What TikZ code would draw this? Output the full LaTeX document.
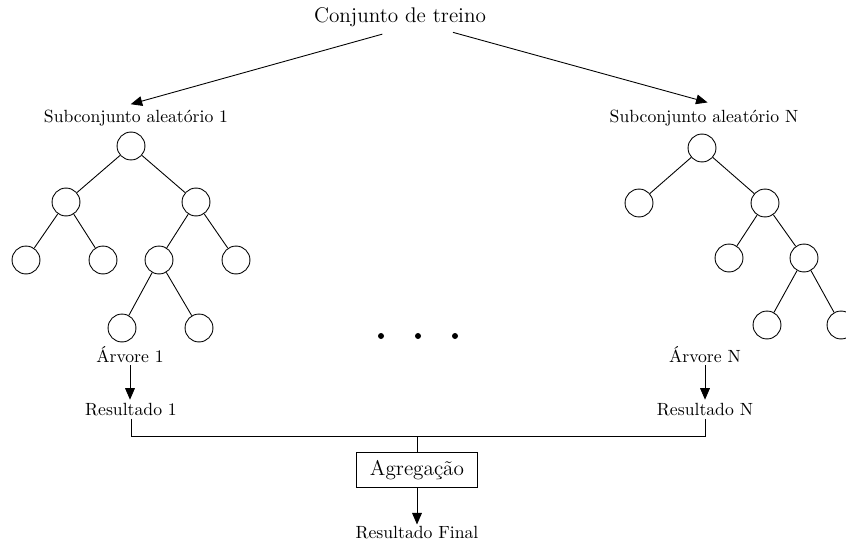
\documentclass[tikz,border=0pt]{standalone}
\usetikzlibrary{arrows.meta}
\begin{document}
\begin{tikzpicture}[x=0.566pt,y=-0.566pt,line width=0.5pt,
  tnode/.style={draw,circle,minimum size=15.8pt,inner sep=0pt},
  lbl/.style={font=\fontsize{10}{12}\selectfont,inner sep=1pt},
  biglbl/.style={font=\fontsize{12}{14}\selectfont,inner sep=1pt},
  arr/.style={-{Triangle[length=6.5pt,width=5.5pt]}},
  dotmark/.style={circle,fill,minimum size=3.4pt,inner sep=0pt},
  aggbox/.style={draw,font=\fontsize{12}{14}\selectfont,minimum width=68.5pt,minimum height=19.8pt,inner sep=0pt}]
\useasboundingbox (0,0) rectangle (846,547);

% labels
\node[biglbl] (top) at (400,17) {Conjunto de treino};
\node[lbl] (sub1) at (136,118) {Subconjunto aleatório 1};
\node[lbl] (subN) at (704,118) {Subconjunto aleatório N};
\draw[arr] ([xshift=-10pt,yshift=-3pt]top.south) -- ([xshift=-3pt,yshift=2pt]sub1.north);
\draw[arr] ([xshift=30pt,yshift=-2pt]top.south) -- ([xshift=2pt,yshift=3pt]subN.north);

% first tree
\node[tnode] (a0) at (131,146) {};
\node[tnode] (a1) at (66,202) {};
\node[tnode] (a2) at (196,202) {};
\node[tnode] (a3) at (26,260) {};
\node[tnode] (a4) at (103,260) {};
\node[tnode] (a5) at (159,260) {};
\node[tnode] (a6) at (236,260) {};
\node[tnode] (a7) at (122,328) {};
\node[tnode] (a8) at (199,328) {};
\draw (a0) -- (a1) (a0) -- (a2) (a1) -- (a3) (a1) -- (a4)
      (a2) -- (a5) (a2) -- (a6) (a5) -- (a7) (a5) -- (a8);

% last tree
\node[tnode] (b0) at (702,148) {};
\node[tnode] (b1) at (639,203) {};
\node[tnode] (b2) at (765,203) {};
\node[tnode] (b3) at (729,258) {};
\node[tnode] (b4) at (804,258) {};
\node[tnode] (b5) at (767,325) {};
\node[tnode] (b6) at (841,325) {};
\draw (b0) -- (b1) (b0) -- (b2) (b2) -- (b3) (b2) -- (b4)
      (b4) -- (b5) (b4) -- (b6);

% ellipsis
\node[dotmark] (d1) at (381,336) {};
\node[dotmark] (d2) at (418,336) {};
\node[dotmark] (d3) at (455,336) {};

% outputs
\node[lbl] (t1) at (130,355) {Árvore 1};
\node[lbl] (tN) at (705,355) {Árvore N};
\node[lbl] (r1) at (131,410) {Resultado 1};
\node[lbl] (rN) at (705,410) {Resultado N};
\draw[arr] (t1.south) -- ([yshift=1pt]t1.south |- r1.north);
\draw[arr] (tN.south) -- ([yshift=1pt]tN.south |- rN.north);

\coordinate (join) at (417,436.5);
\node[aggbox] (agg) at (417,470) {Agregação};
\node[lbl] (fin) at (417,533) {Resultado Final};
\draw (r1.south) |- (join) -| (rN.south);
\draw (join) -- (agg.north);
\draw[arr] (agg.south) -- (fin.north);
\end{tikzpicture}
\end{document}
